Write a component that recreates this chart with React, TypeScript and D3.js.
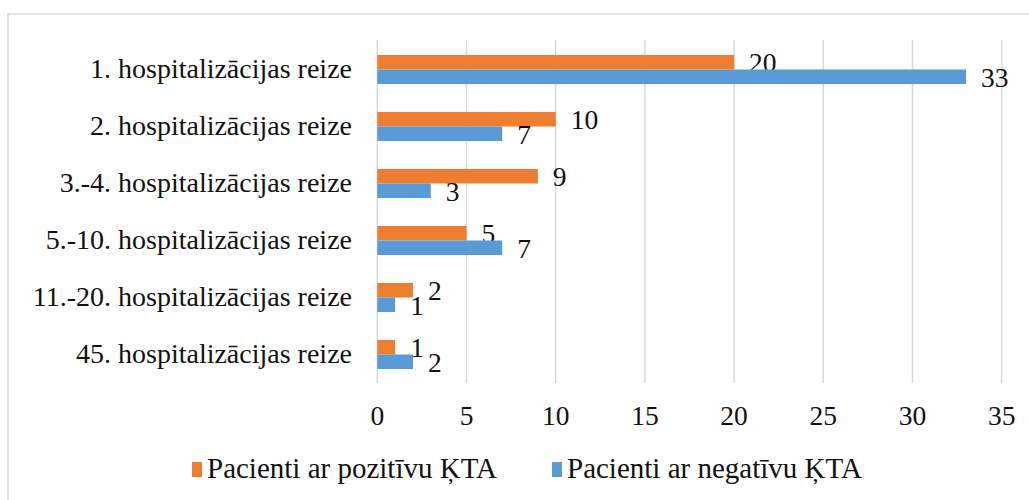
import React from "react";
import * as d3 from "d3";

const categories = [
  "1. hospitalizācijas reize",
  "2. hospitalizācijas reize",
  "3.-4. hospitalizācijas reize",
  "5.-10. hospitalizācijas reize",
  "11.-20. hospitalizācijas reize",
  "45. hospitalizācijas reize",
];
const positive = [20, 10, 9, 5, 2, 1];
const negative = [33, 7, 3, 7, 1, 2];
const seriesNames = ["Pacienti ar pozitīvu ĶTA", "Pacienti ar negatīvu ĶTA"];
const xTicks = [0, 5, 10, 15, 20, 25, 30, 35];

const ORANGE = "#ED7D31";
const BLUE = "#5B9BD5";
const GRID = "#d9d9d9";
const FONT = "'Liberation Serif', 'Times New Roman', serif";

export default function App() {
  const W = 1029;
  const H = 500;
  const x = d3.scaleLinear().domain([0, 35]).range([377.3, 1001.7]);
  const y = d3.scaleBand<string>().domain(categories).range([41, 383]).padding(0);
  const step = y.step();
  const barH = step * 0.255;
  const series = [
    { name: seriesNames[0], values: positive, color: ORANGE },
    { name: seriesNames[1], values: negative, color: BLUE },
  ];
  const fs = 27.5;

  return (
    <svg
      width={W}
      height={H}
      style={{ position: "absolute", left: 0, top: 0, background: "#fff" }}
      fontFamily={FONT}
    >
      <rect x={8} y={14} width={1100} height={600} fill="#fff" stroke={GRID} strokeWidth={1.5} />
      {xTicks.map((t) => (
        <line key={t} x1={x(t)} x2={x(t)} y1={40} y2={383} stroke={GRID} strokeWidth={1.5} />
      ))}
      {categories.map((c, i) => {
        const c0 = (y(c) as number) + step / 2;
        return (
          <g key={c}>
            {series.map((s, si) => {
              const top = si === 0 ? c0 - barH : c0;
              const v = s.values[i];
              return (
                <g key={s.name}>
                  <rect x={x(0)} y={top} width={x(v) - x(0)} height={barH} fill={s.color} />
                  <text
                    x={x(v) + 15}
                    y={top + barH / 2 + 1}
                    dy="0.33em"
                    fontSize={fs}
                    fill="#111"
                  >
                    {v}
                  </text>
                </g>
              );
            })}
            <text x={352} y={c0} dy="0.3em" textAnchor="end" fontSize={fs + 0.5} fill="#111">
              {c}
            </text>
          </g>
        );
      })}
      {xTicks.map((t) => (
        <text key={t} x={x(t)} y={425} textAnchor="middle" fontSize={fs} fill="#111">
          {t}
        </text>
      ))}
      {series.map((s, i) => {
        const lx = i === 0 ? 192 : 552;
        return (
          <g key={s.name}>
            <rect x={lx} y={462} width={10} height={15} fill={s.color} />
            <text x={lx + 15} y={478} fontSize={29} fill="#111">
              {s.name}
            </text>
          </g>
        );
      })}
    </svg>
  );
}
